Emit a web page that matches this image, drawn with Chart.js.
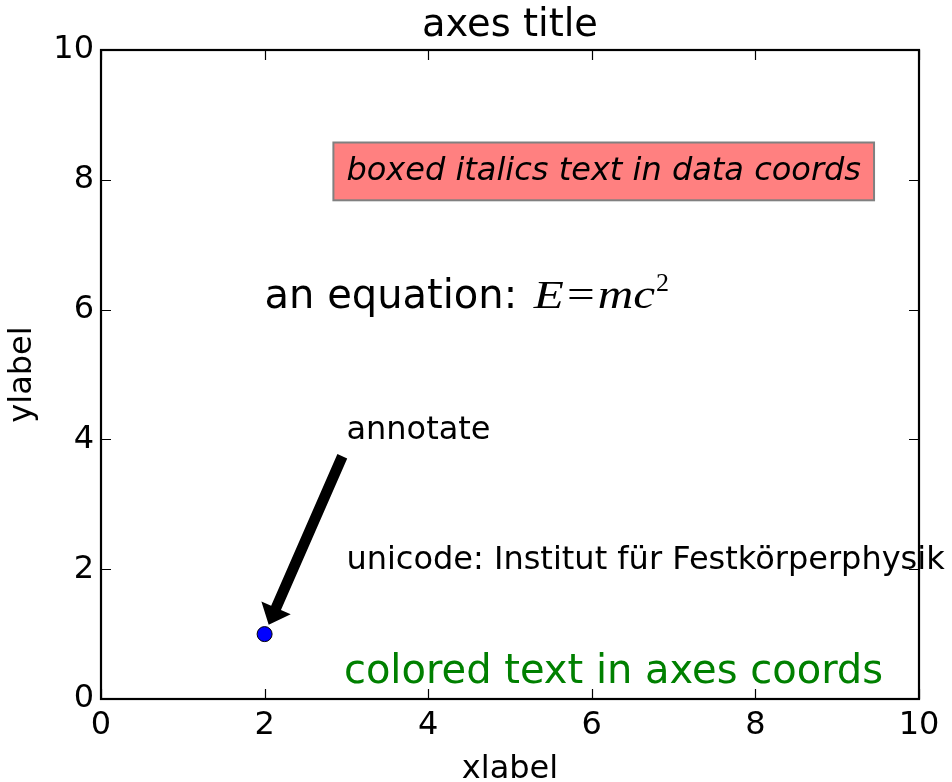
<!DOCTYPE html>
<html>
<head>
<meta charset="utf-8">
<script src="https://cdn.jsdelivr.net/npm/chart.js@4.4.1/dist/chart.umd.min.js"></script>
<style>
html,body{margin:0;padding:0;background:#fff;}
#wrap{width:952px;height:782px;position:relative;}
</style>
</head>
<body>
<div id="wrap"><canvas id="chart"></canvas></div>
<script>
const xTicks=[0,2,4,6,8,10];
const yTicks=[0,2,4,6,8,10];
const pointX=[2];
const pointY=[1];
// text annotations, anchored in data coords
const boxedText='boxed italics text in data coords', boxedAt=[3,8];
const eqText='an equation: ', eqAt=[2,6];
const uniText='unicode: Institut für Festkörperphysik', uniAt=[3,2];
const annText='annotate', annFrom=[3,4], annTo=[2,1];
// axes-fraction anchor
const greenText='colored text in axes coords', greenAt=[0.95,0.01];

const FONT='"DejaVu Sans", sans-serif';

function drawArrow(ctx,x0,y0,x1,y1){
    let dx=x1-x0, dy=y1-y0, L=Math.hypot(dx,dy);
    let ux=dx/L, uy=dy/L;
    // shrink 5% each end
    let sx=x0+ux*L*0.05, sy=y0+uy*L*0.05, ex=x1-ux*L*0.05, ey=y1-uy*L*0.05;
    let len=L*0.9, hl=len*0.1, w=10.7, hw=32;
    let nx=-uy, ny=ux, bx=ex-ux*hl, by=ey-uy*hl;
    ctx.beginPath();
    ctx.moveTo(sx+nx*w/2,sy+ny*w/2);
    ctx.lineTo(bx+nx*w/2,by+ny*w/2);
    ctx.lineTo(bx+nx*hw/2,by+ny*hw/2);
    ctx.lineTo(ex,ey);
    ctx.lineTo(bx-nx*hw/2,by-ny*hw/2);
    ctx.lineTo(bx-nx*w/2,by-ny*w/2);
    ctx.lineTo(sx-nx*w/2,sy-ny*w/2);
    ctx.closePath();
    ctx.fillStyle='#000';
    ctx.fill();
}

const extras={
    id:'extras',
    afterDraw(chart){
        const {ctx,chartArea:a,scales:{x,y}}=chart;
        const px=v=>x.getPixelForValue(v), py=v=>y.getPixelForValue(v);
        ctx.save();
        ctx.textAlign='left';
        ctx.textBaseline='alphabetic';

        // boxed italics
        ctx.font='oblique 32px '+FONT;
        let tx=px(boxedAt[0]), ty=py(boxedAt[1]);
        let w=ctx.measureText(boxedText).width, pad=13;
        ctx.fillStyle='#ff8080';
        ctx.fillRect(tx-pad,ty-24.3-pad,w+2*pad,24.3+7.5+2*pad);
        ctx.strokeStyle='#808080';ctx.lineWidth=2;
        ctx.strokeRect(tx-pad,ty-24.3-pad,w+2*pad,24.3+7.5+2*pad);
        ctx.fillStyle='#000';
        ctx.fillText(boxedText,tx,ty);

        // equation, math part in a stretched serif italic
        ctx.font='40px '+FONT;
        tx=px(eqAt[0]);ty=py(eqAt[1])-1.5;
        ctx.fillText(eqText,tx,ty);
        let cx=tx+ctx.measureText(eqText).width+4;
        const serifI='italic 41px "Liberation Serif", serif', serifR='41px "Liberation Serif", serif';
        const parts=[['E',serifI,3],['=',serifR,3],['m',serifI,0],['c',serifI,1]];
        parts.forEach(p=>{
            ctx.font=p[1];
            ctx.save();ctx.translate(cx,ty);ctx.scale(1.2,1);ctx.fillText(p[0],0,0);ctx.restore();
            cx+=ctx.measureText(p[0]).width*1.2+p[2];
        });
        ctx.font='26px "Liberation Serif", serif';
        ctx.fillText('2',cx,ty-17);

        // unicode + annotate
        ctx.font='32px '+FONT;
        ctx.fillText(uniText,px(uniAt[0]),py(uniAt[1]));
        ctx.fillText(annText,px(annFrom[0]),py(annFrom[1]));
        drawArrow(ctx,px(annFrom[0]),py(annFrom[1])+7.5,px(annTo[0]),py(annTo[1]));

        // green text in axes coords
        ctx.font='40px '+FONT;
        ctx.fillStyle='#008000';
        ctx.textAlign='right';
        ctx.fillText(greenText,a.left+greenAt[0]*(a.right-a.left)+5,a.bottom-greenAt[1]*(a.bottom-a.top)-9.4);

        // frame + inward ticks on all sides
        ctx.strokeStyle='#000';
        ctx.lineWidth=1.2;
        ctx.beginPath();
        x.ticks.forEach(t=>{
            let p=Math.round(px(t.value))+0.5;
            ctx.moveTo(p,a.bottom);ctx.lineTo(p,a.bottom-10);
            ctx.moveTo(p,a.top);ctx.lineTo(p,a.top+10);
        });
        y.ticks.forEach(t=>{
            let p=Math.round(py(t.value))+0.5;
            ctx.moveTo(a.left,p);ctx.lineTo(a.left+10,p);
            ctx.moveTo(a.right,p);ctx.lineTo(a.right-10,p);
        });
        ctx.stroke();
        ctx.lineWidth=2.2;
        ctx.strokeRect(a.left,a.top,a.right-a.left,a.bottom-a.top);
        ctx.restore();
    }
};

new Chart(document.getElementById('chart'),{
    type:'scatter',
    data:{datasets:[{
        data:pointX.map((v,i)=>({x:v,y:pointY[i]})),
        backgroundColor:'#0000ff',borderColor:'#000',borderWidth:1,
        pointRadius:7.5,pointHoverRadius:7.5,clip:false
    }]},
    options:{
        responsive:true,maintainAspectRatio:false,animation:false,
        layout:{padding:{left:0,right:33,top:0,bottom:0}},
        plugins:{legend:{display:false},tooltip:{enabled:false}},
        scales:{
            // title centred over the axes, carried by a top scale
            xTop:{type:'linear',position:'top',min:0,max:10,
                grid:{display:false,drawTicks:false},border:{display:false},ticks:{display:false},
                title:{display:true,text:'axes title',color:'#000',font:{family:FONT,size:38.4,lineHeight:1.2},padding:{top:2.5,bottom:0}},
                afterFit:s=>{s.height=50;s.paddingLeft=0;s.paddingRight=0;}
            },
            x:{type:'linear',min:0,max:10,
                afterBuildTicks:s=>{s.ticks=xTicks.map(v=>({value:v}));},
                grid:{display:false,drawTicks:false},border:{display:false},
                ticks:{color:'#000',font:{family:FONT,size:32},padding:7,maxRotation:0,autoSkip:false},
                title:{display:true,text:'xlabel',color:'#000',font:{family:FONT,size:32,lineHeight:1},padding:{top:0,bottom:-4}},
                afterFit:s=>{s.height=83;s.paddingLeft=0;s.paddingRight=0;}
            },
            y:{type:'linear',min:0,max:10,
                afterBuildTicks:s=>{s.ticks=yTicks.map(v=>({value:v}));},
                grid:{display:false,drawTicks:false},border:{display:false},
                ticks:{color:'#000',font:{family:FONT,size:32},padding:7,autoSkip:false},
                title:{display:true,text:'ylabel',color:'#000',font:{family:FONT,size:32,lineHeight:1},padding:{top:7,bottom:0}},
                afterFit:s=>{s.width=101;s.paddingTop=0;s.paddingBottom=0;}
            }
        }
    },
    plugins:[extras]
});
</script>
</body>
</html>
